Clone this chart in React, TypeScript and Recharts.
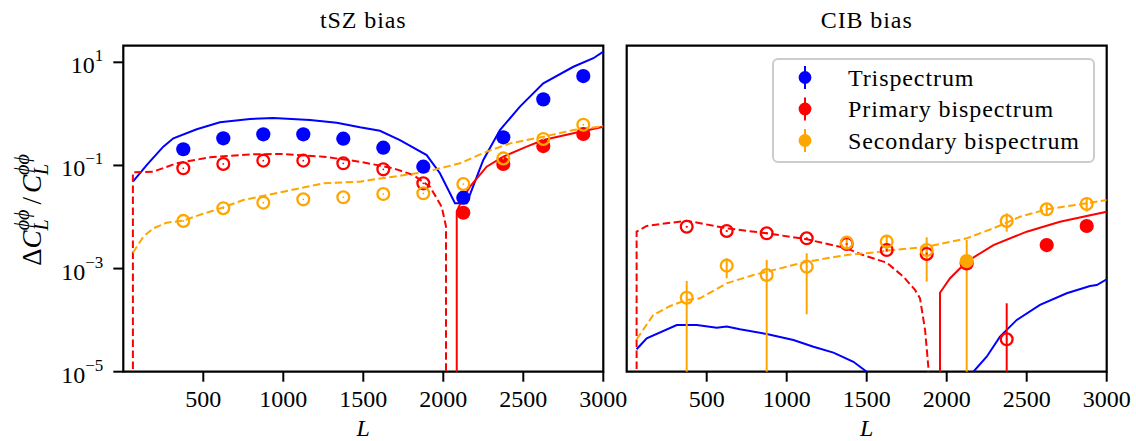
import React from 'react';
import { ComposedChart, Line, Scatter, XAxis, YAxis, ErrorBar, ReferenceArea, Legend } from 'recharts';

const BLUE = '#0000ff';
const RED = '#ff0000';
const ORANGE = '#ffa500';
const FONT = '"Liberation Serif", "DejaVu Serif", serif';

const xTicks = [500, 1000, 1500, 2000, 2500, 3000];
const yTicks = [1e-5, 1e-3, 1e-1, 10];
const titles = ['tSZ bias', 'CIB bias'];
const legendItems = [
  { name: 'Trispectrum', color: BLUE },
  { name: 'Primary bispectrum', color: RED },
  { name: 'Secondary bispectrum', color: ORANGE },
];

// bin centres of the measured points
const binL = [375, 625, 875, 1125, 1375, 1625, 1875, 2125, 2375, 2625, 2875];

// ---- tSZ panel: measured points (negative => open marker, |value|)
const tszTriPts = [0.206, 0.336, 0.402, 0.402, 0.33, 0.221, 0.0946, 0.0237, 0.351, 1.91, 5.42];
const tszPrimPts = [-0.088, -0.107, -0.124, -0.124, -0.11, -0.084, -0.045, 0.0121, 0.107, 0.238, 0.407];
const tszSecPts = [-0.0084, -0.0148, -0.019, -0.022, -0.0241, -0.0279, -0.0288, -0.0436, -0.137, -0.326, -0.617];

// ---- tSZ panel: theory curves
const tszTriCurveL = [60, 150, 250, 313, 459, 604, 792, 938, 1167, 1334, 1479, 1542, 1604, 1729, 1896, 1979, 2073, 2146, 2250, 2354, 2479, 2625, 2813, 2938, 3000];
const tszTriCurve = [0.0484, 0.105, 0.231, 0.336, 0.502, 0.687, 0.796, 0.832, 0.76, 0.674, 0.55, 0.51, 0.47, 0.311, 0.159, 0.0705, 0.0185, 0.0185, 0.128, 0.486, 1.38, 3.92, 8.2, 12.0, 16.1];
const tszPrimNegL = [60, 60, 187, 333, 542, 792, 1000, 1250, 1479, 1688, 1813, 1917, 1990, 2017, 2017];
const tszPrimNeg = [1e-9, 0.0736, 0.0757, 0.11, 0.144, 0.164, 0.167, 0.148, 0.118, 0.088, 0.065, 0.0387, 0.0158, 0.0065, 1e-9];
const tszPrimPosL = [2084, 2084, 2125, 2167, 2271, 2375, 2521, 2625, 2813, 3000];
const tszPrimPos = [1e-9, 0.013, 0.024, 0.0387, 0.0946, 0.148, 0.231, 0.311, 0.42, 0.564];
const tszSecNegL = [60, 125, 188, 271, 375, 459, 625, 750, 1000, 1250, 1479, 1542, 1688, 1896, 2104, 2271, 2417, 2625, 2813, 3000];
const tszSecNeg = [0.00203, 0.00415, 0.00604, 0.00776, 0.0085, 0.0105, 0.0154, 0.0214, 0.031, 0.045, 0.0484, 0.052, 0.0605, 0.0757, 0.11, 0.185, 0.268, 0.36, 0.486, 0.58];

// ---- CIB panel: measured points with error bounds (bounds on |value|)
const cibPrimPts = [-6.49e-3, -5.36e-3, -4.83e-3, -3.86e-3, -3.0e-3, -2.29e-3, -1.92e-3, 1.26e-3, -4.25e-5, 2.86e-3, 6.7e-3];
const cibPrimLo = [6.3e-3, 5.2e-3, 4.7e-3, 3.7e-3, 2.9e-3, 2.1e-3, 1.7e-3, 1.2e-3, 1e-5, 2.75e-3, 6.5e-3];
const cibPrimHi = [6.7e-3, 5.5e-3, 5.0e-3, 4.0e-3, 3.1e-3, 2.5e-3, 2.15e-3, 1.32e-3, 2.12e-4, 2.97e-3, 6.9e-3];
const cibSecPts = [-2.72e-4, -1.14e-3, -7.5e-4, -1.09e-3, -3.18e-3, -3.33e-3, -2.29e-3, 1.4e-3, -8.37e-3, -0.0141, -0.0179];
const cibSecLo = [1e-5, 6.48e-4, 1e-5, 1.3e-4, 2.29e-3, 2.12e-3, 5.57e-4, 1e-5, 5.19e-3, 0.0109, 0.0127];
const cibSecHi = [5.74e-4, 1.58e-3, 1.47e-3, 1.98e-3, 4.04e-3, 4.48e-3, 4.04e-3, 3.58e-3, 0.0118, 0.0185, 0.0241];

// ---- CIB panel: theory curves
const cibTriCurveL = [62, 125, 313, 438, 563, 625, 708, 875, 1042, 1167, 1292, 1417, 1500, 1600, 1850, 2050, 2120, 2167, 2250, 2333, 2438, 2583, 2750, 2896, 2938, 3000];
const cibTriCurve = [2.72e-5, 4.45e-5, 8.05e-5, 8.05e-5, 7.14e-5, 7.5e-5, 6.65e-5, 5.38e-5, 4.12e-5, 3.05e-5, 2.34e-5, 1.56e-5, 1.0e-5, 5e-6, 2e-6, 2e-6, 6e-6, 1.0e-5, 1.95e-5, 4.78e-5, 1.01e-4, 1.97e-4, 3.32e-4, 4.59e-4, 4.8e-4, 6.19e-4];
const cibPrimNegL = [62, 62, 125, 375, 625, 875, 1125, 1375, 1458, 1563, 1625, 1729, 1802, 1833, 1865, 1885, 1890];
const cibPrimNeg = [1e-9, 0.00519, 0.0067, 0.0085, 0.00604, 0.00483, 0.0037, 0.00247, 0.00192, 0.0015, 0.0013, 0.0007, 0.000385, 0.000266, 6.4e-5, 1.26e-5, 1e-9];
const cibPrimPosL = [1958, 1958, 2021, 2125, 2292, 2500, 2708, 2875, 3000];
const cibPrimPos = [1e-9, 0.00034, 0.00065, 0.00136, 0.00286, 0.00519, 0.0081, 0.0105, 0.0127];
const cibSecNegL = [62, 166, 271, 375, 458, 625, 792, 958, 1125, 1375, 1583, 1625, 1875, 2125, 2292, 2458, 2625, 2875, 3000];
const cibSecNeg = [4.25e-5, 1.26e-4, 1.88e-4, 2.46e-4, 2.65e-4, 5.18e-4, 7.5e-4, 1.01e-3, 1.36e-3, 1.83e-3, 2.12e-3, 2.22e-3, 2.65e-3, 3.86e-3, 6.04e-3, 0.0101, 0.0141, 0.0185, 0.0214];

type Pt = { L: number; v: number; s: number; lo?: number; hi?: number };

const curve = (Ls: number[], vs: number[]) => Ls.map((L, i) => ({ L, v: vs[i] }));
const markers = (vals: number[], sign: number, lo?: number[], hi?: number[]): Pt[] =>
  binL
    .map((L, i) => ({ L, v: Math.abs(vals[i]), s: Math.sign(vals[i]), lo: lo ? lo[i] : undefined, hi: hi ? hi[i] : undefined }))
    .filter((p) => p.s === sign);

const errKey = (d: any) => [d.v - d.lo, d.hi - d.v];

const filledShape = (color: string) => (p: any) => <circle cx={p.cx} cy={p.cy} r={7.1} fill={color} />;
const openShape = (color: string) => (p: any) => (
  <g>
    <circle cx={p.cx} cy={p.cy} r={5.9} fill="none" stroke={color} strokeWidth={2.3} />
    <circle cx={p.cx} cy={p.cy} r={0.9} fill={color} />
  </g>
);

const XTick = (props: any) => {
  const { x, y, payload } = props;
  return (
    <text x={x} y={y + 25} textAnchor="middle" fontFamily={FONT} fontSize={24} fill="#000">
      {payload.value}
    </text>
  );
};

const YTick = (props: any) => {
  const { x, y, payload } = props;
  const e = Math.round(Math.log10(payload.value));
  const s = e < 0 ? '\u2212' + -e : String(e);
  return (
    <text x={x} y={y + 11} textAnchor="end" fontFamily={FONT} fontSize={24} fill="#000">
      <tspan>10</tspan>
      <tspan dy={-12} fontSize={17}>{s}</tspan>
    </text>
  );
};

const LegendBox = () => (
  <svg width={324} height={106} style={{ display: 'block' }}>
    <rect x={1} y={1} width={321} height={103} rx={5} fill="#ffffff" fillOpacity={0.8} stroke="#cccccc" strokeWidth={2} />
    {legendItems.map((it, i) => {
      const cy = 19.5 + i * 31.5;
      return (
        <g key={it.name}>
          <line x1={33} x2={33} y1={cy - 11.5} y2={cy + 11.5} stroke={it.color} strokeWidth={2} />
          <circle cx={33} cy={cy} r={6.4} fill={it.color} />
          <text x={76} y={cy + 8} fontFamily={FONT} fontSize={24} letterSpacing={0.9} fill="#000">
            {it.name}
          </text>
        </g>
      );
    })}
  </svg>
);

type CurveDef = { data: any[]; color: string; dashed?: boolean };
type PtsDef = { data: Pt[]; color: string; open: boolean; err?: boolean };

function Panel(props: {
  left: number;
  width: number;
  yAxisWidth: number;
  marginLeft: number;
  marginRight: number;
  showYLabels: boolean;
  curves: CurveDef[];
  pts: PtsDef[];
  legend?: boolean;
}) {
  const { left, width, yAxisWidth, marginLeft, marginRight, showYLabels, curves, pts, legend } = props;
  return (
    <div style={{ position: 'absolute', left, top: 0, width, height: 441 }}>
      <ComposedChart width={width} height={441} margin={{ top: 45.7, right: marginRight, bottom: 9.3, left: marginLeft }}>
        <XAxis
          dataKey="L"
          type="number"
          domain={[0, 3000]}
          ticks={xTicks}
          interval={0}
          allowDataOverflow
          axisLine={false}
          tickLine={{ stroke: '#000', strokeWidth: 2 }}
          tickSize={10}
          tickMargin={0}
          height={60}
          tick={<XTick />}
        />
        <YAxis
          type="number"
          scale="log"
          domain={[1e-5, 21]}
          ticks={yTicks}
          interval={0}
          allowDataOverflow
          axisLine={false}
          tickLine={{ stroke: '#000', strokeWidth: 2 }}
          tickSize={10}
          tickMargin={10}
          width={yAxisWidth}
          tick={showYLabels ? <YTick /> : false}
        />
        {curves.map((c, i) => (
          <Line
            key={'c' + i}
            data={c.data}
            dataKey="v"
            stroke={c.color}
            strokeWidth={2}
            strokeDasharray={c.dashed ? '7.5 3.5' : undefined}
            dot={false}
            activeDot={false}
            isAnimationActive={false}
            legendType="none"
          />
        ))}
        {pts.map((p, i) => (
          <Scatter
            key={'p' + i}
            data={p.data}
            dataKey="v"
            fill={p.color}
            shape={p.open ? openShape(p.color) : filledShape(p.color)}
            isAnimationActive={false}
            legendType="none"
          >
            {p.err ? (
              <ErrorBar dataKey={errKey} direction="y" width={0} stroke={p.color} strokeWidth={2} isAnimationActive={false} />
            ) : null}
          </Scatter>
        ))}
        <ReferenceArea x1={0} x2={3000} y1={1e-5} y2={21} fill="none" stroke="#000" strokeWidth={2.2} ifOverflow="visible" />
        {legend ? (
          <Legend
            layout="vertical"
            align="center"
            verticalAlign="middle"
            content={<LegendBox />}
            wrapperStyle={{ left: 172, top: 58, width: 324, height: 106 }}
          />
        ) : null}
      </ComposedChart>
    </div>
  );
}

export default function App() {
  const tszCurves: CurveDef[] = [
    { data: curve(tszTriCurveL, tszTriCurve), color: BLUE },
    { data: curve(tszPrimNegL, tszPrimNeg), color: RED, dashed: true },
    { data: curve(tszPrimPosL, tszPrimPos), color: RED },
    { data: curve(tszSecNegL, tszSecNeg), color: ORANGE, dashed: true },
  ];
  const tszPts: PtsDef[] = [
    { data: markers(tszTriPts, 1), color: BLUE, open: false },
    { data: markers(tszTriPts, -1), color: BLUE, open: true },
    { data: markers(tszPrimPts, -1), color: RED, open: true },
    { data: markers(tszPrimPts, 1), color: RED, open: false },
    { data: markers(tszSecPts, -1), color: ORANGE, open: true },
    { data: markers(tszSecPts, 1), color: ORANGE, open: false },
  ];
  const cibCurves: CurveDef[] = [
    { data: curve(cibTriCurveL, cibTriCurve), color: BLUE },
    { data: curve(cibPrimNegL, cibPrimNeg), color: RED, dashed: true },
    { data: curve(cibPrimPosL, cibPrimPos), color: RED },
    { data: curve(cibSecNegL, cibSecNeg), color: ORANGE, dashed: true },
  ];
  const cibPts: PtsDef[] = [
    { data: markers(cibPrimPts, -1, cibPrimLo, cibPrimHi), color: RED, open: true, err: true },
    { data: markers(cibPrimPts, 1, cibPrimLo, cibPrimHi), color: RED, open: false, err: true },
    { data: markers(cibSecPts, -1, cibSecLo, cibSecHi), color: ORANGE, open: true, err: true },
    { data: markers(cibSecPts, 1, cibSecLo, cibSecHi), color: ORANGE, open: false, err: true },
  ];

  return (
    <div style={{ position: 'absolute', left: 0, top: 0, width: 1136, height: 441, background: '#fff', overflow: 'hidden' }}>
      <Panel left={0} width={650} yAxisWidth={80} marginLeft={43.3} marginRight={46.7} showYLabels curves={tszCurves} pts={tszPts} />
      <Panel left={600} width={536} yAxisWidth={20} marginLeft={6.7} marginRight={29.3} showYLabels={false} curves={cibCurves} pts={cibPts} legend />
      <svg width={1136} height={441} style={{ position: 'absolute', left: 0, top: 0, pointerEvents: 'none' }}>
        <text x={363.3} y={28} textAnchor="middle" fontFamily={FONT} fontSize={24} letterSpacing={0.9} fill="#000">
          {titles[0]}
        </text>
        <text x={866.7} y={28} textAnchor="middle" fontFamily={FONT} fontSize={24} letterSpacing={0.9} fill="#000">
          {titles[1]}
        </text>
        <text x={363.3} y={436} textAnchor="middle" fontFamily={FONT} fontSize={24} fontStyle="italic" fill="#000">
          L
        </text>
        <text x={866.7} y={436} textAnchor="middle" fontFamily={FONT} fontSize={24} fontStyle="italic" fill="#000">
          L
        </text>
        <text transform="translate(41,210) rotate(-90)" textAnchor="middle" fontFamily={FONT} fontSize={27} fill="#000">
          <tspan>Δ</tspan>
          <tspan fontStyle="italic">C</tspan>
          <tspan fontSize={20} fontStyle="italic" dy={7}>L</tspan>
          <tspan fontSize={20} fontStyle="italic" dx={-11} dy={-19}>ϕϕ</tspan>
          <tspan dx={5} dy={12}>/</tspan>
          <tspan fontStyle="italic" dx={4}>C</tspan>
          <tspan fontSize={20} fontStyle="italic" dy={7}>L</tspan>
          <tspan fontSize={20} fontStyle="italic" dx={-11} dy={-19}>ϕϕ</tspan>
        </text>
      </svg>
    </div>
  );
}
